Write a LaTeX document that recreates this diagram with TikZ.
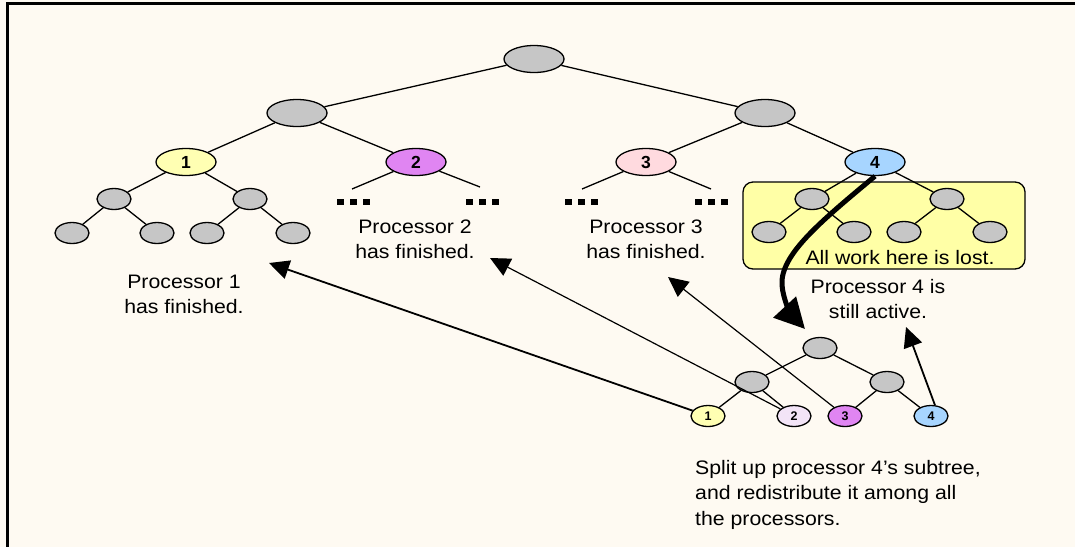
\documentclass[tikz,border=0pt]{standalone}
\usepackage{fontspec}
\setmainfont{Liberation Sans}
\usepackage{graphicx}
\usetikzlibrary{shapes.geometric,arrows.meta}
\definecolor{bg}{HTML}{FEFAF2}
\definecolor{nodegray}{HTML}{C6C6C6}
\definecolor{pyellow}{HTML}{FFFFB3}
\definecolor{pmagenta}{HTML}{E085F2}
\definecolor{ppink}{HTML}{FFDADF}
\definecolor{pblue}{HTML}{A7D5FF}
\definecolor{plavender}{HTML}{F3E4F7}
\definecolor{boxyellow}{HTML}{FFFFA6}
\newcommand{\sx}[1]{\scalebox{1.09}[1]{#1}}
\newcommand{\cenlines}[1]{\vtop{\baselineskip=25.5pt\halign{\hfil##\hfil\cr#1\crcr}}}
\newcommand{\leftlines}[1]{\vtop{\baselineskip=25.5pt\halign{##\hfil\cr#1\crcr}}}
\tikzset{
  bignode/.style={ellipse, draw, line width=1.3pt, minimum width=60pt, minimum height=27pt, inner sep=0pt, fill=nodegray, font=\fontsize{17.5}{20}\selectfont\bfseries},
  smlnode/.style={ellipse, draw, line width=1.3pt, minimum width=34pt, minimum height=21pt, inner sep=0pt, fill=nodegray, font=\fontsize{12.5}{14}\selectfont\bfseries},
  tedge/.style={line width=1.3pt},
  txt/.style={inner sep=0pt, font=\fontsize{19.5}{25.5}\selectfont},
  thinarrow/.style={line width=1.2pt, -{Triangle[length=20pt,width=19pt]}},
  medarrow/.style={line width=1.8pt, -{Triangle[length=20pt,width=19pt]}},
  bigarrow/.style={line width=5pt, -{Triangle[length=30pt,width=30pt]}},
  dotsq/.style={fill=black, minimum width=7pt, minimum height=6pt, inner sep=0pt},
  lostbox/.style={draw, line width=1.3pt, fill=boxyellow, rounded corners=10pt, minimum width=282pt, minimum height=87pt, inner sep=0pt}
}
\begin{document}
\begin{tikzpicture}[x=1pt,y=-1pt]
\useasboundingbox (0,0) rectangle (1075,547);
\fill[bg] (0,0) rectangle (1075,547);
\draw[line width=3pt] (6,3.5) -- (1075,3.5);
\draw[line width=3pt] (7.5,2) -- (7.5,547);

% yellow box behind processor 4's subtree
\node[lostbox] (box) at (884,225.5) {};

% big tree
\node[bignode] (root) at (534,59) {};
\node[bignode] (la) at (297,113) {};
\node[bignode] (lb) at (765,113) {};
\node[bignode, fill=pyellow] (n1) at (186,162) {1};
\node[bignode, fill=pmagenta] (n2) at (416,162) {2};
\node[bignode, fill=ppink] (n3) at (646,162) {3};
\node[bignode, fill=pblue] (n4) at (875,162) {4};
\node[smlnode] (a) at (114,199) {};
\node[smlnode] (b) at (250,199) {};
\node[smlnode] (a1) at (72,233) {};
\node[smlnode] (a2) at (157,233) {};
\node[smlnode] (b1) at (207,233) {};
\node[smlnode] (b2) at (293,233) {};
\node[smlnode] (c) at (812,199) {};
\node[smlnode] (d) at (947,199) {};
\node[smlnode] (c1) at (769,232) {};
\node[smlnode] (c2) at (854,232) {};
\node[smlnode] (d1) at (904,232) {};
\node[smlnode] (d2) at (990,232) {};
\coordinate (n2l) at (352,189);
\coordinate (n2r) at (480,187);
\coordinate (n3l) at (582,189);
\coordinate (n3r) at (711,189);

\draw[tedge] (root) -- (la);
\draw[tedge] (root) -- (lb);
\draw[tedge] (la) -- (n1);
\draw[tedge] (la) -- (n2);
\draw[tedge] (lb) -- (n3);
\draw[tedge] (lb) -- (n4);
\draw[tedge] (n1) -- (a);
\draw[tedge] (n1) -- (b);
\draw[tedge] (a) -- (a1);
\draw[tedge] (a) -- (a2);
\draw[tedge] (b) -- (b1);
\draw[tedge] (b) -- (b2);
\draw[tedge] (n2) -- (n2l);
\draw[tedge] (n2) -- (n2r);
\draw[tedge] (n3) -- (n3l);
\draw[tedge] (n3) -- (n3r);
\draw[tedge] (n4) -- (c);
\draw[tedge] (n4) -- (d);
\draw[tedge] (c) -- (c1);
\draw[tedge] (c) -- (c2);
\draw[tedge] (d) -- (d1);
\draw[tedge] (d) -- (d2);

% dots
\foreach \cx in {353,482,581,711} {
  \node[dotsq] at (\cx-13,202) {};
  \node[dotsq] at (\cx,202) {};
  \node[dotsq] at (\cx+13,202) {};
}

% texts
\node[txt, anchor=base] (p1) at (184,288) {\cenlines{\sx{Processor 1}\cr\sx{has finished.}}};
\node[txt, anchor=base] (p2) at (415,233) {\cenlines{\sx{Processor 2}\cr\sx{has finished.}}};
\node[txt, anchor=base] (p3) at (646,233) {\cenlines{\sx{Processor 3}\cr\sx{has finished.}}};
\node[txt, anchor=base] (lost) at (900,264) {\sx{All work here is lost.}};
\node[txt, anchor=base] (p4) at (878,293) {\cenlines{\sx{Processor 4 is}\cr\sx{still active.}}};
\node[txt, anchor=base west] (split) at (695,474) {\leftlines{\sx{Split up processor 4’s subtree,}\cr\sx{and redistribute it among all}\cr\sx{the processors.}}};

% small tree
\node[smlnode] (r) at (820,348) {};
\node[smlnode] (sa) at (752,382) {};
\node[smlnode] (sb) at (887,382) {};
\node[smlnode, fill=pyellow] (s1) at (708,416) {1};
\node[smlnode, fill=plavender] (s2) at (794,416) {2};
\node[smlnode, fill=pmagenta] (s3) at (845,416) {3};
\node[smlnode, fill=pblue] (s4) at (931,416) {4};
\draw[tedge] (r) -- (sa);
\draw[tedge] (r) -- (sb);
\draw[tedge] (sa) -- (s1);
\draw[tedge] (sa) -- (s2);
\draw[tedge] (sb) -- (s3);
\draw[tedge] (sb) -- (s4);

% redistribution arrows
\coordinate (t1) at (269,263);
\coordinate (t2) at (490,258);
\coordinate (t3) at (668,277);
\coordinate (t4) at (906,327);
\draw[medarrow] (s1) -- (t1);
\draw[thinarrow] (s2) -- (t2);
\draw[thinarrow] (s3) -- (t3);
\draw[medarrow] (s4.70) -- (t4);

% thick curved arrow from processor 4
\coordinate (bt) at (805,329);
\draw[bigarrow] (n4.south) .. controls (820,222) and (780,255) .. (782,285) .. controls (783,300) and (792,315) .. (bt);
\end{tikzpicture}
\end{document}
